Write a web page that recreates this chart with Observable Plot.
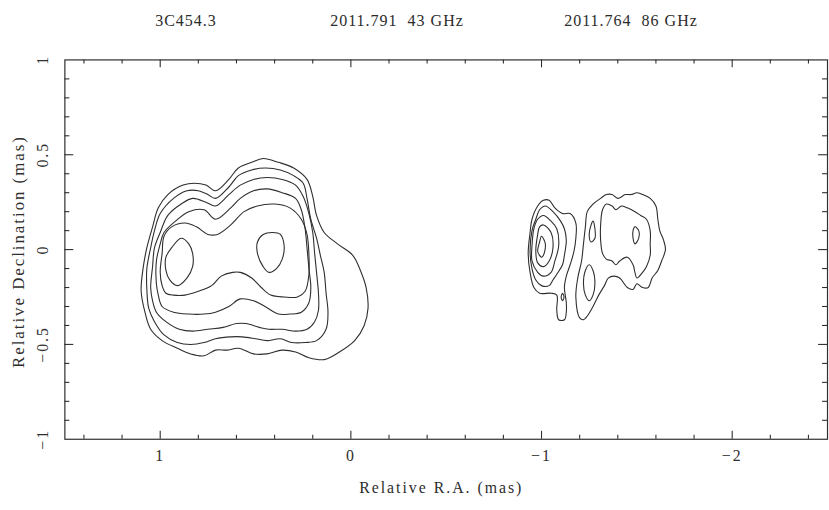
<!DOCTYPE html>
<html><head><meta charset="utf-8">
<script src="https://cdn.jsdelivr.net/npm/d3@7"></script>
<script src="https://cdn.jsdelivr.net/npm/@observablehq/plot@0.6"></script>
<style>
html,body{margin:0;padding:0;background:#fff;overflow:hidden;width:829px;height:510px;}
#wrap{position:relative;width:829px;height:510px;overflow:hidden;}
#chart{position:absolute;left:0;top:0;}
#title{position:absolute;top:0;left:0;width:829px;height:40px;font-family:"Liberation Serif",serif;font-size:16px;letter-spacing:1px;color:#2b2b2b;z-index:2;}
#title span{position:absolute;top:12px;white-space:pre;transform:translateX(-50%);}
</style></head><body><div id="wrap"><div id="chart"></div><div id="title"></div></div>
<script>
// Title pieces
const titleParts = ["3C454.3", "2011.791  43 GHz", "2011.764  86 GHz"];
const titleCenter = [186, 397, 631];

// Axis ticks and labels (mas)
const xTickValues = [1, 0, -1, -2];
const xTickLabels = ["1", "0", "\u22121", "\u22122"];
const xMinorTicks = [1.4, 1.2, 0.8, 0.6, 0.4, 0.2, -0.2, -0.4, -0.6, -0.8, -1.2, -1.4, -1.6, -1.8, -2.2, -2.4];
const yTickValues = [1, 0.5, 0, -0.5, -1];
const yTickLabels = ["1", "0.5", "0", "\u22120.5", "\u22121"];
const yMajorTicks = [0.5, 0, -0.5];
const yMinorTicks = [0.9, 0.8, 0.7, 0.6, 0.4, 0.3, 0.2, 0.1, -0.1, -0.2, -0.3, -0.4, -0.6, -0.7, -0.8, -0.9];

// Contours: [relative R.A., relative Dec] in mas, read from the map
// 43 GHz component (left)
const c43_1 = [[1.10,-0.22],[1.09,-0.10],[1.07,0.01],[1.04,0.12],[1.01,0.22],[0.96,0.29],[0.88,0.34],[0.82,0.35],[0.76,0.34],[0.71,0.31],[0.64,0.37],[0.59,0.43],[0.52,0.46],[0.46,0.48],[0.38,0.46],[0.30,0.43],[0.23,0.37],[0.20,0.28],[0.18,0.18],[0.14,0.09],[0.07,0.03],[-0.01,-0.03],[-0.05,-0.11],[-0.08,-0.20],[-0.09,-0.31],[-0.07,-0.40],[-0.02,-0.48],[0.06,-0.54],[0.14,-0.58],[0.22,-0.57],[0.29,-0.54],[0.36,-0.53],[0.44,-0.55],[0.51,-0.55],[0.59,-0.52],[0.65,-0.53],[0.71,-0.53],[0.77,-0.56],[0.84,-0.55],[0.91,-0.52],[0.99,-0.48],[1.05,-0.42],[1.08,-0.33]];
const c43_2 = [[1.07,-0.21],[1.07,-0.10],[1.05,0.01],[1.03,0.10],[1.00,0.19],[0.93,0.27],[0.86,0.31],[0.80,0.31],[0.75,0.29],[0.71,0.27],[0.64,0.33],[0.59,0.39],[0.52,0.42],[0.45,0.43],[0.37,0.42],[0.30,0.39],[0.25,0.35],[0.23,0.27],[0.21,0.16],[0.18,0.06],[0.16,-0.03],[0.14,-0.12],[0.13,-0.23],[0.12,-0.33],[0.13,-0.42],[0.18,-0.48],[0.24,-0.49],[0.31,-0.49],[0.37,-0.47],[0.44,-0.48],[0.50,-0.47],[0.57,-0.46],[0.63,-0.46],[0.71,-0.47],[0.77,-0.49],[0.84,-0.50],[0.91,-0.49],[0.98,-0.45],[1.03,-0.38],[1.06,-0.31]];
const c43_3 = [[1.05,-0.20],[1.04,-0.09],[1.03,0.01],[1.00,0.09],[0.96,0.18],[0.89,0.24],[0.83,0.27],[0.76,0.25],[0.71,0.23],[0.64,0.29],[0.58,0.34],[0.51,0.37],[0.44,0.38],[0.36,0.37],[0.29,0.34],[0.25,0.28],[0.22,0.19],[0.20,0.09],[0.19,-0.02],[0.18,-0.12],[0.17,-0.23],[0.17,-0.32],[0.19,-0.38],[0.23,-0.42],[0.29,-0.43],[0.36,-0.42],[0.43,-0.42],[0.48,-0.41],[0.55,-0.39],[0.60,-0.39],[0.67,-0.41],[0.75,-0.42],[0.83,-0.43],[0.90,-0.42],[0.97,-0.38],[1.02,-0.33],[1.04,-0.27]];
const c43_4 = [[1.02,-0.18],[1.02,-0.06],[1.00,0.03],[0.98,0.09],[0.92,0.15],[0.85,0.20],[0.77,0.21],[0.71,0.16],[0.63,0.22],[0.58,0.27],[0.51,0.31],[0.44,0.32],[0.36,0.30],[0.29,0.27],[0.26,0.21],[0.24,0.11],[0.23,0.01],[0.22,-0.10],[0.21,-0.20],[0.22,-0.28],[0.26,-0.33],[0.32,-0.34],[0.38,-0.34],[0.45,-0.30],[0.51,-0.27],[0.58,-0.26],[0.64,-0.30],[0.71,-0.33],[0.77,-0.34],[0.85,-0.34],[0.93,-0.33],[0.99,-0.30],[1.01,-0.24]];
const c43_5 = [[1.00,-0.12],[0.99,-0.02],[0.98,0.07],[0.94,0.12],[0.87,0.14],[0.81,0.12],[0.75,0.08],[0.70,0.08],[0.63,0.13],[0.56,0.20],[0.49,0.23],[0.40,0.24],[0.32,0.22],[0.26,0.16],[0.23,0.08],[0.22,-0.03],[0.22,-0.13],[0.24,-0.22],[0.28,-0.25],[0.35,-0.25],[0.42,-0.24],[0.47,-0.20],[0.52,-0.15],[0.58,-0.12],[0.62,-0.12],[0.68,-0.14],[0.73,-0.19],[0.80,-0.22],[0.87,-0.24],[0.93,-0.24],[0.97,-0.23],[0.99,-0.19]];
const c43_6a = [[0.89,0.06],[0.85,0.03],[0.83,-0.02],[0.83,-0.09],[0.86,-0.15],[0.91,-0.19],[0.95,-0.16],[0.97,-0.11],[0.97,-0.04],[0.94,0.01]];
const c43_6b = [[0.41,0.09],[0.37,0.08],[0.35,0.02],[0.36,-0.05],[0.39,-0.10],[0.43,-0.12],[0.46,-0.09],[0.49,-0.02],[0.49,0.04],[0.46,0.08]];

// 86 GHz core (middle-right)
const c86_1 = [[-1.01,0.26],[-1.04,0.26],[-1.07,0.22],[-1.11,0.19],[-1.15,0.19],[-1.18,0.14],[-1.18,0.06],[-1.17,-0.01],[-1.15,-0.08],[-1.13,-0.14],[-1.12,-0.20],[-1.13,-0.28],[-1.13,-0.33],[-1.12,-0.37],[-1.09,-0.37],[-1.08,-0.32],[-1.08,-0.24],[-1.05,-0.23],[-0.99,-0.23],[-0.96,-0.20],[-0.94,-0.12],[-0.93,-0.02],[-0.94,0.09],[-0.95,0.16],[-0.98,0.23]];
const c86_2 = [[-1.02,0.23],[-1.06,0.20],[-1.10,0.15],[-1.12,0.11],[-1.13,0.05],[-1.12,-0.03],[-1.11,-0.08],[-1.08,-0.13],[-1.06,-0.16],[-1.04,-0.19],[-1.00,-0.19],[-0.97,-0.16],[-0.95,-0.10],[-0.94,-0.01],[-0.95,0.10],[-0.97,0.16],[-0.99,0.21]];
const c86_3 = [[-1.01,0.18],[-1.05,0.15],[-1.08,0.11],[-1.09,0.02],[-1.07,-0.06],[-1.05,-0.12],[-1.01,-0.14],[-0.98,-0.12],[-0.95,-0.06],[-0.95,0.02],[-0.96,0.11],[-0.98,0.16]];
const c86_4 = [[-1.01,0.13],[-1.05,0.09],[-1.06,0.01],[-1.04,-0.06],[-1.01,-0.09],[-0.98,-0.07],[-0.97,-0.01],[-0.98,0.08],[-0.99,0.12]];
const c86_5 = [[-1.00,0.07],[-1.02,0.03],[-1.01,-0.03],[-1.00,-0.04],[-0.98,-0.01],[-0.99,0.04]];
const c86_6 = [[-1.11,-0.23],[-1.118,-0.25],[-1.11,-0.27],[-1.103,-0.25]];
// 86 GHz jet region (right)
const c86_b1 = [[-1.20,-0.36],[-1.18,-0.25],[-1.19,-0.15],[-1.21,-0.06],[-1.22,0.03],[-1.23,0.12],[-1.24,0.20],[-1.27,0.24],[-1.31,0.27],[-1.34,0.29],[-1.37,0.29],[-1.40,0.27],[-1.44,0.29],[-1.47,0.29],[-1.50,0.30],[-1.53,0.29],[-1.57,0.27],[-1.60,0.23],[-1.61,0.16],[-1.62,0.10],[-1.64,0.05],[-1.65,0.00],[-1.63,-0.06],[-1.61,-0.11],[-1.58,-0.15],[-1.56,-0.20],[-1.53,-0.20],[-1.50,-0.18],[-1.48,-0.21],[-1.45,-0.20],[-1.41,-0.15],[-1.38,-0.14],[-1.35,-0.15],[-1.33,-0.19],[-1.30,-0.24],[-1.27,-0.30],[-1.24,-0.35],[-1.22,-0.37]];
const c86_b2 = [[-1.31,0.13],[-1.32,0.21],[-1.34,0.24],[-1.37,0.23],[-1.39,0.21],[-1.42,0.23],[-1.45,0.22],[-1.49,0.20],[-1.52,0.18],[-1.55,0.16],[-1.57,0.10],[-1.57,0.03],[-1.57,-0.03],[-1.55,-0.09],[-1.53,-0.12],[-1.50,-0.15],[-1.49,-0.12],[-1.48,-0.08],[-1.45,-0.04],[-1.41,-0.06],[-1.39,-0.08],[-1.37,-0.06],[-1.34,-0.05],[-1.32,-0.02],[-1.31,0.05]];
const c86_b3 = [[-1.27,0.15],[-1.28,0.11],[-1.28,0.06],[-1.26,0.04],[-1.25,0.08],[-1.26,0.13]];
const c86_b4 = [[-1.49,0.12],[-1.51,0.10],[-1.51,0.06],[-1.49,0.03],[-1.48,0.06],[-1.48,0.10]];
const c86_b5 = [[-1.25,-0.08],[-1.27,-0.11],[-1.28,-0.18],[-1.27,-0.24],[-1.25,-0.27],[-1.23,-0.24],[-1.22,-0.18],[-1.23,-0.11]];

const contourList = [c43_1, c43_2, c43_3, c43_4, c43_5, c43_6a, c43_6b,
  c86_1, c86_2, c86_3, c86_4, c86_5, c86_6, c86_b1, c86_b2, c86_b3, c86_b4, c86_b5];
const rows = contourList.flatMap((pts, i) => pts.map(([x, y]) => ({id: i, x, y})));

const ink = "#2e2e2e";
const font = "'Liberation Serif', serif";
const W = 837, H = 510, mL = 65, mR = 2, mT = 60, mB = 67;
const fw = W - mL - mR, fh = H - mT - mB;

const chart = Plot.plot({
  width: W, height: H,
  marginLeft: mL, marginRight: mR, marginTop: mT, marginBottom: mB,
  x: {domain: [1.5, -2.5], axis: null},
  y: {domain: [-1, 1], axis: null},
  style: {background: "white", fontFamily: font, color: ink, letterSpacing: "2px"},
  marks: [
    Plot.frame({stroke: ink, strokeWidth: 1.2}),
    // bottom / top ticks
    Plot.ruleX(xMinorTicks, {x: d => d, insetTop: fh - 4, stroke: ink, strokeWidth: 1.1}),
    Plot.ruleX(xTickValues, {x: d => d, insetTop: fh - 8, stroke: ink, strokeWidth: 1.1}),
    Plot.ruleX(xMinorTicks, {x: d => d, insetBottom: fh - 4, stroke: ink, strokeWidth: 1.1}),
    Plot.ruleX(xTickValues, {x: d => d, insetBottom: fh - 8, stroke: ink, strokeWidth: 1.1}),
    // left / right ticks
    Plot.ruleY(yMinorTicks, {y: d => d, insetRight: fw - 5, stroke: ink, strokeWidth: 1.1}),
    Plot.ruleY(yMajorTicks, {y: d => d, insetRight: fw - 9, stroke: ink, strokeWidth: 1.1}),
    Plot.ruleY(yMinorTicks, {y: d => d, insetLeft: fw - 5, stroke: ink, strokeWidth: 1.1}),
    Plot.ruleY(yMajorTicks, {y: d => d, insetLeft: fw - 9, stroke: ink, strokeWidth: 1.1}),
    // contours
    Plot.line(rows, {x: "x", y: "y", z: "id", curve: "catmull-rom-closed", stroke: ink, strokeWidth: 1.1}),
    // tick labels
    Plot.text(xTickValues, {x: d => d, text: (d, i) => xTickLabels[i], frameAnchor: "bottom", textAnchor: "middle", dy: 22, fontSize: 16, fill: ink}),
    Plot.text(yTickValues, {y: d => d, text: (d, i) => yTickLabels[i], frameAnchor: "left", textAnchor: "middle", dx: -22, rotate: -90, fontSize: 16, fill: ink}),
    // axis titles
    Plot.text(["Relative R.A. (mas)"], {frameAnchor: "bottom", textAnchor: "middle", dx: -5, dy: 54, fontSize: 16, fill: ink}),
    Plot.text(["Relative Declination (mas)"], {frameAnchor: "left", textAnchor: "middle", dx: -47, dy: 2, rotate: -90, fontSize: 17, fill: ink})
  ]
});
document.getElementById("chart").appendChild(chart);

const t = document.getElementById("title");
titleParts.forEach((s, i) => {
  const sp = document.createElement("span");
  sp.textContent = s;
  sp.style.left = titleCenter[i] + "px";
  t.appendChild(sp);
});
</script></body></html>
